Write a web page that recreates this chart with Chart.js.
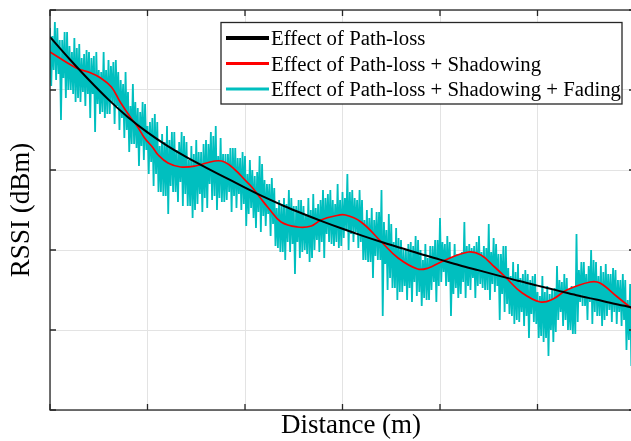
<!DOCTYPE html>
<html>
<head>
<meta charset="utf-8">
<script src="https://cdn.jsdelivr.net/npm/chart.js@4.4.0/dist/chart.umd.min.js"></script>
<style>
  html, body { margin: 0; padding: 0; background: #fff; overflow: hidden; }
  #rssiChart { display: block; }
</style>
</head>
<body>
<canvas id="rssiChart" width="640" height="441"></canvas>
<script>
'use strict'

// distance in m, RSSI in dBm

// path-loss only
var pathLossDist = [0, 2, 4, 6, 8, 10, 12, 14, 16, 18, 20, 22, 24, 26, 28, 30,
  32, 34, 36, 38, 40, 42, 44, 46, 48, 50, 52, 54, 56, 58, 60];
var pathLoss = [-26.75, -32.25, -37.5, -42.4, -46.8, -50.6, -53.9, -56.8, -59.4, -61.9, -64.4,
  -66.8, -69.0, -71.0, -72.9, -74.7, -76.4, -78.0, -79.5, -81.0, -82.4, -83.8,
  -85.1, -86.4, -87.7, -88.9, -90.1, -91.3, -92.4, -93.5, -94.5];

// path-loss + shadowing
var shadowDist = [0, 2.7, 4.2, 5.2, 6.3, 7.2, 8.3, 9.0, 9.7, 10.5, 11.1, 12.1, 13.4, 14.9,
  16.9, 17.9, 19.0, 20.0, 20.7, 21.5, 22.4, 23.7, 25.4, 26.8, 27.8, 29.2, 30.3, 31.9,
  34.0, 35.7, 37.7, 38.8, 40.1, 42.9, 44.2, 45.6, 46.8, 48.3, 50.3, 51.6, 53.0, 55.4,
  56.4, 58.2, 59.6, 60];
var shadowing = [-30.5, -34.5, -35.75, -37, -39.25, -43, -47, -49.25, -52, -54.25, -56.25,
  -58.25, -59.25, -59, -57.75, -58, -60, -62.5, -64.25, -66.75, -69.5, -73, -74.25, -74,
  -72.5, -71.5, -71.25, -73, -78, -82, -84.75, -84.5, -83, -80.5, -81.25, -84.25, -87,
  -90.5, -93, -92.25, -90, -88, -88.25, -91.75, -94.5, -95.25];

// path-loss + shadowing + fading, one sample every 0.125 m (8 per row = 1 m)
var fading = [
  -24.5, -39, -26.5, -35, -23, -37.5, -24.5, -36,
  -27.5, -47.5, -27.5, -37, -25.5, -42, -25.5, -40,
  -29, -40, -30.5, -41, -27, -43, -29.5, -42,
  -28.5, -43, -32, -40.5, -31, -44, -30, -41,
  -30.5, -47, -32, -41, -31.5, -50.5, -30.5, -43.5,
  -35, -46, -35.5, -45.5, -30.5, -47, -35, -46,
  -32.5, -46, -34, -43, -33, -48.5, -32.5, -44,
  -35.5, -50, -37.5, -47, -38.5, -52, -35.5, -50,
  -40.5, -55.5, -44, -53.5, -38.5, -53.5, -43, -54.5,
  -44.5, -59, -45.5, -54, -43, -57.5, -43.5, -55,
  -49, -61, -48, -58, -47, -64, -46, -61,
  -48, -65.5, -54, -65.5, -51, -66.5, -53, -66.5,
  -49, -71, -52.5, -64, -50.5, -65.5, -50.5, -65.5,
  -55, -68, -53, -63, -50.5, -69, -51.5, -66,
  -53, -69, -57.5, -69, -54, -72, -56, -70,
  -52.5, -68.5, -55.5, -66, -55.5, -70.5, -53.5, -67,
  -52.5, -69.5, -53.5, -63.5, -50.5, -67.5, -51.5, -66.5,
  -49, -70, -56.5, -67, -52, -68, -56, -68,
  -56, -67.5, -56, -65.5, -54.5, -70.5, -54.5, -66.5,
  -54.5, -69.5, -57, -66, -57, -70, -55.5, -68.5,
  -56.5, -74, -61, -71, -57.5, -69.5, -60, -72,
  -61.5, -74.5, -60.5, -70.5, -56.5, -75.5, -58.5, -71.5,
  -62.5, -74, -63.5, -71, -63.5, -76.5, -62, -73.5,
  -64.5, -79, -69.5, -79.5, -67.5, -80.5, -68.5, -80.5,
  -67, -82.5, -68.5, -78, -65, -80.5, -67, -78.5,
  -69, -86, -69, -78, -67.5, -82, -67.5, -80.5,
  -69, -80, -71, -81, -67, -83, -70, -82,
  -66, -80, -69.5, -77.5, -68.5, -80.5, -67.5, -78,
  -65, -82, -67, -76, -66, -78, -65, -78.5,
  -67.5, -79, -68.5, -78, -63.5, -79.5, -67.5, -79,
  -65.5, -77, -67, -75, -61, -80, -65.5, -76,
  -65, -78, -67, -75.5, -67.5, -79.5, -65, -78,
  -67.5, -82.5, -72.5, -82.5, -70, -83, -72, -83,
  -69.5, -87, -72.5, -81.5, -70.5, -82.5, -70.5, -82.5,
  -65, -96.5, -73, -83.5, -75, -90, -71, -87,
  -73.5, -89.5, -78, -89.5, -74.5, -92.5, -77, -90.5,
  -77.5, -90.5, -80, -89, -80, -92.5, -78.5, -89.5,
  -78, -93, -79, -88, -76.5, -91.5, -77.5, -90.5,
  -80, -94, -82.5, -92, -78.5, -92.5, -82, -92.5,
  -79, -90, -79, -88, -77.5, -93, -77.5, -89,
  -72, -88, -78, -85.5, -78.5, -89, -76.5, -88,
  -78, -96.5, -82, -91, -78.5, -89.5, -81, -92,
  -81, -91, -80.5, -88, -73, -92, -79, -89,
  -78.5, -90, -79.5, -87, -79, -92, -78, -89,
  -76.5, -88.5, -80.5, -89.5, -79, -90, -79.5, -90,
  -73.5, -92.5, -80.5, -88.5, -77, -90.5, -78.5, -89,
  -81, -97.5, -81, -91, -79, -95.5, -79, -93.5,
  -84.5, -96, -86.5, -96.5, -83, -98.5, -85.5, -97.5,
  -83.5, -98, -87, -95.5, -86, -99, -85, -96.5,
  -86, -102, -87.5, -96, -86.5, -98, -86, -98.5,
  -90.5, -102, -91.5, -101.5, -86.5, -103, -90.5, -102,
  -89, -106.5, -91, -100, -90, -103, -89.5, -100.5,
  -84, -97.5, -87.5, -95.5, -88, -99, -86, -97.5,
  -87, -100, -91.5, -100, -89, -101, -90.5, -101,
  -76, -98, -85, -93, -83, -94, -83, -94,
  -86, -97.5, -84, -93, -80, -98.5, -82.5, -95.5,
  -83, -96.5, -86.5, -96.5, -84, -99, -85.5, -97.5,
  -83.5, -96.5, -86, -95, -86, -98, -84.5, -95.5,
  -85, -98.5, -87.5, -95.5, -87.5, -99, -86, -97.5,
  -87.5, -105, -92.5, -102.5, -88.5, -109, -91.5, -103,
  -88
];
var fadingDist = fading.map(function(v, i) { return i * 0.125; });

var seriesLabels = [
  'Effect of Path-loss',
  'Effect of Path-loss + Shadowing',
  'Effect of Path-loss + Shadowing + Fading'
];
var xTitle = 'Distance (m)';
var yTitle = 'RSSI (dBm)';

var serif = "'Liberation Serif', 'Times New Roman', serif";

var toPoints = function(xs, ys) {
  return xs.map(function(x, i) { return { x: x, y: ys[i] }; });
};

// axes box with inward ticks, legend box and axis titles
var matlabLook = {
  id: 'matlabLook',
  afterDatasetsDraw: function(chart) {
    var ctx = chart.ctx;
    var a = chart.chartArea;
    var tick = 6;
    ctx.save();
    ctx.strokeStyle = '#262626';
    ctx.lineWidth = 1.3;
    ctx.strokeRect(a.left, a.top, a.right - a.left, a.bottom - a.top);
    ctx.beginPath();
    chart.scales.x.ticks.forEach(function(t) {
      var px = chart.scales.x.getPixelForValue(t.value);
      ctx.moveTo(px, a.bottom); ctx.lineTo(px, a.bottom - tick);
      ctx.moveTo(px, a.top); ctx.lineTo(px, a.top + tick);
    });
    chart.scales.y.ticks.forEach(function(t) {
      var py = chart.scales.y.getPixelForValue(t.value);
      ctx.moveTo(a.left, py); ctx.lineTo(a.left + tick, py);
      ctx.moveTo(a.right, py); ctx.lineTo(a.right - tick, py);
    });
    ctx.stroke();
    ctx.restore();
  },
  afterDraw: function(chart) {
    var ctx = chart.ctx;
    ctx.save();

    // legend
    var box = { left: 221, top: 22.5, right: 622, bottom: 104 };
    ctx.fillStyle = '#fff';
    ctx.fillRect(box.left, box.top, box.right - box.left, box.bottom - box.top);
    ctx.strokeStyle = '#262626';
    ctx.lineWidth = 1.3;
    ctx.strokeRect(box.left, box.top, box.right - box.left, box.bottom - box.top);
    var rows = [38, 63.5, 89];
    var sampleW = [4, 3, 3];
    ctx.font = '20.8px ' + serif;
    ctx.textBaseline = 'alphabetic';
    ctx.textAlign = 'left';
    chart.data.datasets.forEach(function(ds, i) {
      ctx.strokeStyle = ds.borderColor;
      ctx.lineWidth = sampleW[i];
      ctx.beginPath();
      ctx.moveTo(226, rows[i]);
      ctx.lineTo(269, rows[i]);
      ctx.stroke();
      ctx.fillStyle = '#000';
      ctx.fillText(ds.label, 271, rows[i] + 7);
    });

    // axis titles
    ctx.fillStyle = '#000';
    ctx.font = '27px ' + serif;
    ctx.textAlign = 'center';
    ctx.fillText(xTitle, 351, 433);
    ctx.translate(29, 210);
    ctx.rotate(-Math.PI / 2);
    ctx.fillText(yTitle, 0, 0);
    ctx.restore();
  }
};

var chart = new Chart(document.getElementById('rssiChart'), {
  type: 'line',
  data: {
    datasets: [{
      label: seriesLabels[0],
      data: toPoints(pathLossDist, pathLoss),
      borderColor: '#000000',
      borderWidth: 2,
      cubicInterpolationMode: 'monotone'
    }, {
      label: seriesLabels[1],
      data: toPoints(shadowDist, shadowing),
      borderColor: '#ff0000',
      borderWidth: 1.7,
      tension: 0.4
    }, {
      label: seriesLabels[2],
      data: toPoints(fadingDist, fading),
      borderColor: '#00bfbf',
      backgroundColor: '#00bfbf',
      borderWidth: 1.8,
      borderJoinStyle: 'bevel',
      tension: 0,
      // fill towards the shadowing curve so the dense noise reads as one band
      fill: 1
    }]
  },
  options: {
    responsive: false,
    animation: false,
    devicePixelRatio: 1,
    layout: { padding: { left: 50, top: 10, right: 5, bottom: 31 } },
    elements: { point: { radius: 0 } },
    plugins: { legend: { display: false }, tooltip: { enabled: false } },
    scales: {
      x: {
        type: 'linear', min: 0, max: 60,
        ticks: { display: false, stepSize: 10 },
        grid: { color: '#e3e3e3', drawTicks: false },
        border: { display: false }
      },
      y: {
        type: 'linear', min: -120, max: -20,
        ticks: { display: false, stepSize: 20 },
        grid: { color: '#e3e3e3', drawTicks: false },
        border: { display: false }
      }
    }
  },
  plugins: [matlabLook]
});
</script>
</body>
</html>
